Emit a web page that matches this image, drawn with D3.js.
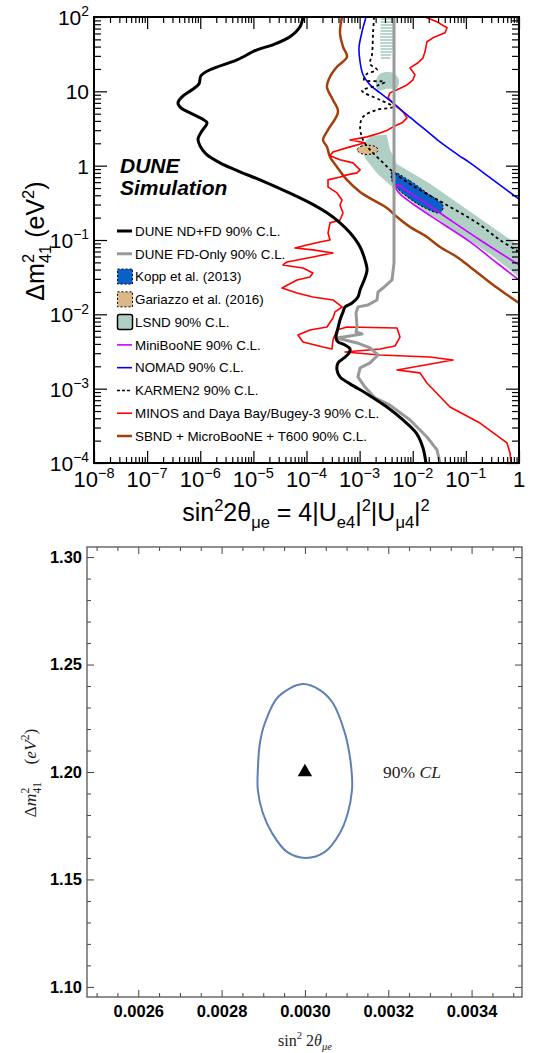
<!DOCTYPE html>
<html><head><meta charset="utf-8">
<script src="https://cdn.jsdelivr.net/npm/d3@7"></script>
<style>
body{margin:0;background:#fff;}
svg{display:block;}
</style></head><body>
<svg id="c" width="540" height="1053"></svg>
<script>
// ---------------- TOP PANEL DATA ([sin^2 2theta, dm^2]) ----------------
const duneNdFd = [[8.6e-5,100],[7.55e-5,73.8],[4.89e-5,54.2],[2.34e-5,42.3],[1.17e-5,36.2],[4.92e-6,26.5],[1.53e-6,19.5],[1.03e-6,16.2],[9.46e-7,12.6],[7.0e-7,10.5],[4.53e-7,8.43],[3.81e-7,7.0],[4.34e-7,6.0],[7.0e-7,4.98],[1.08e-6,4.27],[1.34e-6,3.77],[1.08e-6,2.94],[9.08e-7,2.29],[9.9e-7,1.85],[1.28e-6,1.44],[2.35e-6,1.09],[5.6e-6,0.826],[1.33e-5,0.645],[4.3e-5,0.445],[1.16e-4,0.316],[2.43e-4,0.232],[4.27e-4,0.170],[6.6e-4,0.125],[1.02e-3,0.0807],[1.26e-3,0.054],[1.38e-3,0.0396],[1.26e-3,0.0309],[1.02e-3,0.0213],[9.3e-4,0.0171],[7.2e-4,0.0142],[5.3e-4,0.01256],[4.87e-4,0.01076],[4.27e-4,8.4e-3],[3.92e-4,6.56e-3],[3.59e-4,4.81e-3],[3.92e-4,4.25e-3],[5.3e-4,3.87e-3],[6.6e-4,3.42e-3],[6.3e-4,3.02e-3],[5.08e-4,2.59e-3],[3.92e-4,2.22e-3],[3.75e-4,1.78e-3],[4.27e-4,1.44e-3],[6.6e-4,1.16e-3],[1.38e-3,8.5e-4],[3.27e-3,5.66e-4],[6.55e-3,3.79e-4],[0.0120,2.45e-4],[0.0156,1.59e-4],[0.0177,1e-4]];
const duneFdOnly = [[4.44e-3,100],[4.44e-3,0.0492],[4.07e-3,0.0290],[2.75e-3,0.0226],[2.22e-3,0.0200],[2.12e-3,0.0156],[1.44e-3,0.01339],[9.3e-4,0.01259],[8.55e-4,0.01045],[8.93e-4,6.77e-3],[8.55e-4,5.79e-3],[1.11e-3,5.44e-3],[3.75e-4,4.81e-3],[8.93e-4,4.12e-3],[1.57e-3,3.53e-3],[2.22e-3,2.84e-3],[1.57e-3,2.22e-3],[1.02e-3,1.90e-3],[9.3e-4,1.44e-3],[1.26e-3,1.05e-3],[1.95e-3,7.5e-4],[3.73e-3,6.0e-4],[8.9e-3,3.79e-4],[0.0185,2.24e-4],[0.0286,1.5e-4],[0.0326,1e-4]];
const sbnd = [[4.66e-4,100],[4.27e-4,61.3],[4.87e-4,39.7],[5.78e-4,29.1],[3.75e-4,21.4],[2.77e-4,15.7],[2.43e-4,11.5],[3.15e-4,7.67],[3.92e-4,5.30],[2.54e-4,3.03],[2.05e-4,2.22],[2.43e-4,1.79],[2.77e-4,1.31],[3.75e-4,0.962],[5.78e-4,0.643],[1.02e-3,0.443],[1.79e-3,0.346],[3.27e-3,0.27],[5.06e-3,0.204],[8.87e-3,0.150],[0.0185,0.110],[0.0326,0.0805],[0.068,0.0592],[0.120,0.0434],[0.21,0.0318],[0.324,0.025],[0.5,0.02],[1.0,0.0142]];
const nomad = [[1.32e-3,100],[1.11e-3,63.2],[9.73e-4,38.5],[1.02e-3,24.9],[1.16e-3,16.7],[1.57e-3,12.2],[2.42e-3,9.55],[4.25e-3,7.0],[7.8e-3,4.82],[0.0156,3.23],[0.0326,2.09],[0.0711,1.40],[0.12,1.09],[0.324,0.644],[1.0,0.356]];
const miniboone = [[1.0,0.0462],[0.1845,0.1],[0.0573,0.175],[0.0185,0.305],[7.8e-3,0.457],[5.28e-3,0.551],[4.84e-3,0.501],[5.75e-3,0.417],[0.0101,0.305],[0.0372,0.164],[0.12,0.0942],[0.324,0.054],[1.0,0.029]];
const karmen2 = [[1.87e-3,100],[1.79e-3,61.3],[1.71e-3,31.0],[1.57e-3,23.4],[2.12e-3,19.5],[1.38e-3,17.2],[1.21e-3,14.3],[3.0e-3,13.4],[2.12e-3,11.9],[1.11e-3,10.2],[2.42e-3,7.67],[4.25e-3,6.18],[2.12e-3,5.64],[1.16e-3,4.54],[1.02e-3,3.33],[1.16e-3,2.22],[1.57e-3,1.63],[2.42e-3,1.20],[4.25e-3,0.824],[0.0101,0.535],[0.0372,0.315],[0.162,0.170],[0.439,0.1],[1.0,0.0692]];
const minosDayaBay = [[0.0170,100],[0.0286,86.1],[0.0442,71.6],[0.0405,61.3],[0.0240,52.5],[0.0185,46.4],[0.0170,34.0],[0.0156,28.2],[0.0126,24.2],[8.87e-3,20.7],[0.0110,16.7],[0.0101,14.3],[7.8e-3,12.2],[5.06e-3,10.5],[3.73e-3,9.53],[3.42e-3,8.16],[4.25e-3,7.0],[5.28e-3,6.0],[6.55e-3,5.30],[7.8e-3,4.40],[6.28e-3,3.77],[4.25e-3,3.33],[3.42e-3,3.03],[2.42e-3,2.76],[1.38e-3,2.44],[6.59e-4,2.22],[1.26e-3,2.03],[6.59e-4,1.79],[3.15e-4,1.53],[2.77e-4,1.36],[4.27e-4,1.20],[7.5e-4,1.09],[1.02e-3,0.877],[8.93e-4,0.80],[5.78e-4,0.752],[4.27e-4,0.706],[2.54e-4,0.644],[2.54e-4,0.518],[3.75e-4,0.43],[4.66e-4,0.346],[4.27e-4,0.296],[4.87e-4,0.231],[4.27e-4,0.186],[2.77e-4,0.17],[2.54e-4,0.124],[2.77e-4,0.100],[1.79e-4,0.0942],[1.02e-4,0.0859],[6.08e-5,0.0782],[1.32e-4,0.0736],[3.15e-4,0.067],[1.32e-4,0.0592],[4.30e-5,0.0507],[3.61e-5,0.0462],[8.59e-5,0.0421],[1.32e-4,0.036],[1.16e-4,0.0318],[6.63e-5,0.029],[3.46e-5,0.0226],[6.63e-5,0.0194],[1.32e-4,0.0171],[3.15e-4,0.0156],[4.66e-4,0.01256],[3.44e-4,0.01076],[3.15e-4,8.93e-3],[2.43e-4,6.76e-3],[1.16e-4,6.17e-3],[6.92e-5,5.27e-3],[8.59e-5,4.25e-3],[2.05e-4,3.64e-3],[3.02e-4,3.42e-3],[3.15e-4,4.52e-3],[3.75e-4,6.17e-3],[5.78e-4,6.76e-3],[5.06e-3,6.56e-3],[5.75e-3,4.95e-3],[4.63e-3,3.75e-3],[2.42e-3,3.42e-3],[5.31e-4,3.12e-3],[2.42e-3,2.84e-3],[0.0211,2.67e-3],[0.0573,2.43e-3],[5.06e-3,1.78e-3],[0.0137,1.63e-3],[0.0185,1.19e-3],[0.0502,5.66e-4],[0.1845,3.45e-4],[0.594,1.86e-4],[0.678,1.36e-4],[0.707,1e-4]];
const lsndBand = [[1.71e-3,2.44],[3.13e-3,2.52],[3.57e-3,1.63],[4.84e-3,1.03],[0.0211,0.551],[0.0776,0.288],[0.324,0.141],[1.0,0.0807],[1.0,0.0327],[0.324,0.063],[0.0776,0.124],[0.0185,0.246],[4.63e-3,0.501],[2.22e-3,0.798],[1.32e-3,1.27],[1.16e-3,1.91]];
const lsndBlob = [[2.42e-3,17.2],[4.25e-3,17.7],[5.5e-3,14.3],[5.06e-3,11.1],[3.42e-3,10.8],[2.22e-3,10.5],[2.03e-3,13.4]];
const lsndHatch = [[2.52e-3,100],[4.25e-3,100],[4.25e-3,38.5],[3.73e-3,26.5],[2.52e-3,26.5],[2.42e-3,49.3]];
const kopp = [[4.07e-3,0.824],[8.87e-3,0.624],[0.0185,0.43],[0.0372,0.288],[0.0326,0.232],[0.017,0.27],[8.87e-3,0.357],[5.06e-3,0.501],[4.07e-3,0.624]];
const gariazzo = [[8.93e-4,1.63],[1.06e-3,1.82],[1.44e-3,1.88],[2.03e-3,1.79],[2.22e-3,1.58],[1.71e-3,1.44],[1.11e-3,1.44]];

const xMajor = [1e-8,1e-7,1e-6,1e-5,1e-4,1e-3,1e-2,1e-1,1];
const xTickBase = ["10","10","10","10","10","10","10","10","1"];
const xTickExp = ["\u22128","\u22127","\u22126","\u22125","\u22124","\u22123","\u22122","\u22121",""];
const yMajor = [1e-4,1e-3,1e-2,1e-1,1,10,100];
const yTickBase = ["10","10","10","10","1","10","10"];
const yTickExp = ["\u22124","\u22123","\u22122","\u22121","","","2"];

const legendLabels = ["DUNE ND+FD 90% C.L.","DUNE FD-Only 90% C.L.","Kopp et al. (2013)","Gariazzo et al. (2016)","LSND 90% C.L.","MiniBooNE 90% C.L.","NOMAD 90% C.L.","KARMEN2 90% C.L.","MINOS and Daya Bay/Bugey-3 90% C.L.","SBND + MicroBooNE + T600 90% C.L."];

// ---------------- BOTTOM PANEL DATA ----------------
const ellipse90 = [[0.002994,1.2409],[0.003036,1.2381],[0.003067,1.2321],[0.003096,1.2181],[0.003108,1.2070],[0.003113,1.1977],[0.003113,1.1916],[0.003103,1.1809],[0.003084,1.1716],[0.003048,1.1628],[0.003002,1.1600],[0.002957,1.1628],[0.002921,1.1716],[0.002899,1.1809],[0.002887,1.1916],[0.002887,1.2009],[0.002892,1.2135],[0.002904,1.2228],[0.002936,1.2350]];
const bestFit = [0.0030, 1.20];
const x2Major = [0.0026,0.0028,0.0030,0.0032,0.0034];
const x2Labels = ["0.0026","0.0028","0.0030","0.0032","0.0034"];
const x2Minor = [0.0025,0.00255,0.00265,0.0027,0.00275,0.00285,0.0029,0.00295,0.00305,0.0031,0.00315,0.00325,0.0033,0.00335,0.00345,0.0035];
const y2Major = [1.10,1.15,1.20,1.25,1.30];
const y2Labels = ["1.10","1.15","1.20","1.25","1.30"];
const y2Minor = [1.11,1.12,1.13,1.14,1.16,1.17,1.18,1.19,1.21,1.22,1.23,1.24,1.26,1.27,1.28,1.29];

// ---------------- DRAWING ----------------
(function () {
const svg = d3.select("#c");
const SANS = "'Liberation Sans', Arial, Helvetica, sans-serif";
const SERIF = "'Liberation Serif', 'DejaVu Serif', serif";

function rich(t, parts, fs) {
  let shift = 0;
  parts.forEach(p => {
    const [s, kind, it, back] = p;
    let target = 0, size = fs;
    if (kind === "sup") { target = -0.42 * fs; size = 0.66 * fs; }
    if (kind === "sub") { target = 0.28 * fs; size = 0.66 * fs; }
    const ts = t.append("tspan").text(s).attr("font-size", size).attr("dy", (target - shift).toFixed(2));
    if (it) ts.attr("font-style", "italic");
    if (back) ts.attr("dx", back);
    shift = target;
  });
}

const x = d3.scaleLog().domain([1e-8, 1]).range([94, 519]);
const y = d3.scaleLog().domain([1e-4, 100]).range([463, 17]);
const isMajor = v => Math.abs(Math.log10(v) - Math.round(Math.log10(v))) < 1e-6;
const xMinor = x.ticks().filter(v => !isMajor(v));
const yMinor = y.ticks().filter(v => !isMajor(v));

const defs = svg.append("defs");
defs.append("clipPath").attr("id", "clipTop").append("rect")
  .attr("x", 94).attr("y", 17).attr("width", 425).attr("height", 446);
const pat = defs.append("pattern").attr("id", "hatch").attr("patternUnits", "userSpaceOnUse")
  .attr("width", 6).attr("height", 3);
pat.append("rect").attr("x", 0).attr("y", 0).attr("width", 6).attr("height", 2).attr("fill", "#b8d5cb");

const topG = svg.append("g");
const plot = topG.append("g").attr("clip-path", "url(#clipTop)");
const line = d3.line().x(d => x(d[0])).y(d => y(d[1]));
const smooth = d3.line().x(d => x(d[0])).y(d => y(d[1])).curve(d3.curveCatmullRom.alpha(0.5));
const closedArea = d3.line().x(d => x(d[0])).y(d => y(d[1])).curve(d3.curveCatmullRomClosed.alpha(0.5));

// LSND
plot.append("path").attr("d", line(lsndHatch) + "Z").attr("fill", "url(#hatch)");
plot.append("path").attr("d", closedArea(lsndBlob)).attr("fill", "#b0d0c5");
plot.append("path").attr("d", line(lsndBand) + "Z").attr("fill", "#b0d0c5").attr("stroke", "#b0d0c5").attr("stroke-width", 2).attr("stroke-linejoin", "round");
// Kopp & Gariazzo
plot.append("path").attr("d", closedArea(kopp)).attr("fill", "#0a5fc8").attr("stroke", "#000").attr("stroke-width", 1).attr("stroke-dasharray", "2,2");
plot.append("path").attr("d", closedArea(gariazzo)).attr("fill", "#dcb888").attr("stroke", "#000").attr("stroke-width", 1).attr("stroke-dasharray", "2,2");

// lines
plot.append("path").attr("d", smooth(sbnd)).attr("fill", "none").attr("stroke", "#a33f0b").attr("stroke-width", 2.5);
plot.append("path").attr("d", line(minosDayaBay)).attr("fill", "none").attr("stroke", "#ff0000").attr("stroke-width", 1.6).attr("stroke-linejoin", "round");
plot.append("path").attr("d", smooth(nomad)).attr("fill", "none").attr("stroke", "#0000ff").attr("stroke-width", 1.6);
plot.append("path").attr("d", smooth(miniboone)).attr("fill", "none").attr("stroke", "#cc00ff").attr("stroke-width", 1.6);
plot.append("path").attr("d", smooth(karmen2)).attr("fill", "none").attr("stroke", "#000").attr("stroke-width", 1.8).attr("stroke-dasharray", "3,3");
plot.append("path").attr("d", line(duneFdOnly)).attr("fill", "none").attr("stroke", "#999999").attr("stroke-width", 3).attr("stroke-linejoin", "round");
plot.append("path").attr("d", smooth(duneNdFd)).attr("fill", "none").attr("stroke", "#000").attr("stroke-width", 3).attr("stroke-linejoin", "round");

// axes (ticks inside on all sides)
function ticks(gen, pos, vals, size) {
  const g = topG.append("g").attr("transform", pos).call(gen.tickValues(vals).tickSize(size).tickFormat(""));
  g.select(".domain").remove();
  g.selectAll(".tick line").attr("stroke", "#000").attr("stroke-width", 1.2);
}
ticks(d3.axisBottom(x), "translate(0,463)", xMinor, -6);
ticks(d3.axisBottom(x), "translate(0,463)", xMajor, -12);
ticks(d3.axisTop(x), "translate(0,17)", xMinor, -6);
ticks(d3.axisTop(x), "translate(0,17)", xMajor, -12);
ticks(d3.axisLeft(y), "translate(94,0)", yMinor, -7);
ticks(d3.axisLeft(y), "translate(94,0)", yMajor, -13);
ticks(d3.axisRight(y), "translate(519,0)", yMinor, -7);
ticks(d3.axisRight(y), "translate(519,0)", yMajor, -13);
topG.append("rect").attr("x", 94).attr("y", 17).attr("width", 425).attr("height", 446)
  .attr("fill", "none").attr("stroke", "#000").attr("stroke-width", 2);

// tick labels
xMajor.forEach((v, i) => {
  const t = topG.append("text").attr("x", x(v)).attr("y", 487).attr("text-anchor", "middle")
    .attr("font-family", SANS).attr("font-size", 22).attr("fill", "#000");
  const parts = [[xTickBase[i]]];
  if (xTickExp[i]) parts.push([xTickExp[i], "sup"]);
  rich(t, parts, 22);
});
yMajor.forEach((v, i) => {
  const t = topG.append("text").attr("x", 89).attr("y", y(v) + 8).attr("text-anchor", "end")
    .attr("font-family", SANS).attr("font-size", 21).attr("fill", "#000");
  const parts = [[yTickBase[i]]];
  if (yTickExp[i]) parts.push([yTickExp[i], "sup"]);
  rich(t, parts, 21);
});

// axis titles
const xt = topG.append("text").attr("x", 306).attr("y", 521).attr("text-anchor", "middle")
  .attr("font-family", SANS).attr("fill", "#000");
rich(xt, [["sin"], ["2", "sup"], ["2\u03b8"], ["\u03bce", "sub"], [" = 4|U"], ["e4", "sub"], ["|"], ["2", "sup"], ["|U"], ["\u03bc4", "sub"], ["|"], ["2", "sup"]], 25);
const yt = topG.append("text").attr("transform", "translate(44,241) rotate(-90)").attr("text-anchor", "middle")
  .attr("font-family", SANS).attr("fill", "#000");
rich(yt, [["\u0394m"], ["2", "sup"], ["41", "sub", false, "-0.556em"], [" (eV"], ["2", "sup"], [")"]], 25);

// DUNE Simulation
topG.append("text").attr("x", 120).attr("y", 173).attr("font-family", SANS).attr("font-weight", "bold")
  .attr("font-style", "italic").attr("font-size", 21).text("DUNE");
topG.append("text").attr("x", 120).attr("y", 195).attr("font-family", SANS).attr("font-weight", "bold")
  .attr("font-style", "italic").attr("font-size", 21).text("Simulation");

// legend
const legStyles = [
  {type: "line", color: "#000", w: 3},
  {type: "line", color: "#999999", w: 3},
  {type: "box", color: "#0a5fc8", dash: "2,2"},
  {type: "box", color: "#dcb888", dash: "2,2"},
  {type: "box", color: "#b0d0c5", dash: null},
  {type: "line", color: "#cc00ff", w: 1.6},
  {type: "line", color: "#0000ff", w: 1.6},
  {type: "line", color: "#000", w: 1.6, dash: "3,2"},
  {type: "line", color: "#ff0000", w: 1.6},
  {type: "line", color: "#a33f0b", w: 2.5}
];
const legY = d3.scaleLinear().domain([0, legendLabels.length - 1]).range([231, 436]);
legendLabels.forEach((lab, i) => {
  const cy = legY(i), st = legStyles[i];
  if (st.type === "line") {
    const l = topG.append("line").attr("x1", 117).attr("x2", 132).attr("y1", cy).attr("y2", cy)
      .attr("stroke", st.color).attr("stroke-width", st.w);
    if (st.dash) l.attr("stroke-dasharray", st.dash);
  } else {
    const r = topG.append("rect").attr("x", 117.5).attr("y", cy - 7.5).attr("width", 15).attr("height", 15)
      .attr("rx", st.dash ? 0 : 2).attr("fill", st.color).attr("stroke", "#000").attr("stroke-width", st.dash ? 1 : 1.5);
    if (st.dash) r.attr("stroke-dasharray", st.dash);
  }
  topG.append("text").attr("x", 135).attr("y", cy + 4.8).attr("font-family", SANS).attr("font-size", 13.4)
    .attr("fill", "#000").text(lab);
});

// ---------------- BOTTOM PANEL ----------------
const bot = svg.append("g");
const x2 = d3.scaleLinear().domain([0.002477, 0.003521]).range([87, 522]);
const y2 = d3.scaleLinear().domain([1.0953, 1.3047]).range([997, 547]);

function ticks2(gen, pos, vals, size, labels, pad) {
  const g = bot.append("g").attr("transform", pos)
    .call(gen.tickValues(vals).tickSize(size).tickPadding(pad || 3).tickFormat(labels ? ((d, i) => labels[i]) : ""));
  g.select(".domain").remove();
  g.selectAll(".tick line").attr("stroke", "#444").attr("stroke-width", 1);
  g.attr("font-family", SANS).attr("font-size", 16.5).attr("font-weight", "bold");
  g.selectAll(".tick text").attr("fill", "#000");
}
ticks2(d3.axisBottom(x2), "translate(0,997)", x2Minor, -4);
ticks2(d3.axisBottom(x2), "translate(0,997)", x2Major, -7, x2Labels, 8.3);
ticks2(d3.axisTop(x2), "translate(0,547)", x2Minor, -4);
ticks2(d3.axisTop(x2), "translate(0,547)", x2Major, -7);
ticks2(d3.axisLeft(y2), "translate(87,0)", y2Minor, -4);
ticks2(d3.axisLeft(y2), "translate(87,0)", y2Major, -7, y2Labels, 5);
ticks2(d3.axisRight(y2), "translate(522,0)", y2Minor, -4);
ticks2(d3.axisRight(y2), "translate(522,0)", y2Major, -7);
bot.append("rect").attr("x", 87).attr("y", 547).attr("width", 435).attr("height", 450)
  .attr("fill", "none").attr("stroke", "#555").attr("stroke-width", 1.3);

const ell = d3.line().x(d => x2(d[0])).y(d => y2(d[1])).curve(d3.curveCatmullRomClosed.alpha(0.5));
bot.append("path").attr("d", ell(ellipse90)).attr("fill", "none").attr("stroke", "#5e81b5").attr("stroke-width", 2);
bot.append("path").attr("d", d3.symbol(d3.symbolTriangle, 90)())
  .attr("transform", `translate(${x2(bestFit[0])},${y2(bestFit[1])})`).attr("fill", "#000");

const cl = bot.append("text").attr("x", 383).attr("y", 778).attr("font-family", SERIF).attr("font-size", 17.5).attr("fill", "#222");
cl.append("tspan").text("90% ");
cl.append("tspan").attr("font-style", "italic").text("CL");

const bx = bot.append("text").attr("x", 305).attr("y", 1046).attr("text-anchor", "middle")
  .attr("font-family", SERIF).attr("fill", "#222");
rich(bx, [["sin"], ["2", "sup"], [" 2"], ["\u03b8", "", true], ["\u03bce", "sub", true]], 16);
const by = bot.append("text").attr("transform", "translate(36,773) rotate(-90)").attr("text-anchor", "middle")
  .attr("font-family", SERIF).attr("fill", "#222");
rich(by, [["\u0394"], ["m", "", true], ["2", "sup"], ["41", "sub", false, "-0.5em"], ["\u2003("], ["eV", "", true], ["2", "sup"], [")"]], 17.5);
})();
</script></body></html>
